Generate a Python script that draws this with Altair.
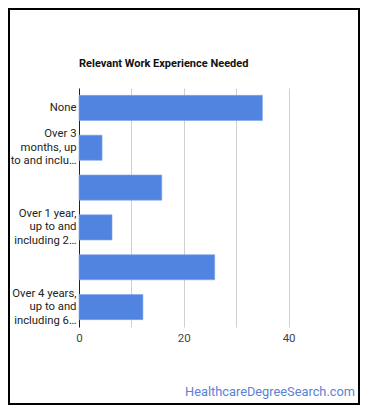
import altair as alt
import pandas as pd

categories = [
    "None",
    "Over 3 months, up to and including 6 months",
    "Over 6 months, up to and including 1 year",
    "Over 1 year, up to and including 2 years",
    "Over 2 years, up to and including 4 years",
    "Over 4 years, up to and including 6 years",
]
values = [35.0, 4.4, 15.8, 6.3, 25.9, 12.2]
shown_labels = [
    ["", "None"],
    ["Over 3", "months, up", "to and inclu…"],
    [],
    ["Over 1 year,", "up to and", "including 2…"],
    [],
    ["Over 4 years,", "up to and", "including 6…"],
]
x_ticks = [0, 10, 20, 30, 40]
x_labelled = [0, 20, 40]

df = pd.DataFrame({"category": categories, "value": values})

def lit(lines):
    if not lines:
        return "''"
    return "[" + ",".join("'" + s + "'" for s in lines) + "]"

expr = "''"
for c, l in reversed(list(zip(categories, shown_labels))):
    expr = f"datum.value == '{c}' ? {lit(l)} : ({expr})"

x_label_expr = " || ".join(f"datum.value == {v}" for v in x_labelled)
x_label_expr = f"({x_label_expr}) ? datum.label : ''"

W, H = 262, 239
LH = 13.5

bars = alt.Chart(df).mark_bar(color="#5184e1", stroke="#7ea4ea", strokeWidth=0.6).encode(
    x=alt.X("value:Q", scale=alt.Scale(domain=[0, 50], nice=False),
            axis=alt.Axis(values=x_ticks, labelExpr=x_label_expr, title=None,
                          domain=False, ticks=False, grid=True, gridColor="#d0d0d0",
                          labelFont="Roboto", labelFontSize=11.5, labelColor="#444444",
                          labelPadding=5, labelFlush=False)),
    y=alt.Y("category:N", sort=categories,
            scale=alt.Scale(paddingInner=0.37, paddingOuter=0.185),
            axis=alt.Axis(labelExpr=expr, title=None, ticks=False, domain=True,
                          domainColor="#222222", domainWidth=1, grid=False,
                          labelFont="Roboto", labelFontSize=11.3, labelColor="#222222",
                          labelLineHeight=LH, labelBaseline="middle", labelOffset=-LH,
                          labelPadding=3, labelLimit=80)),
)

border = alt.Chart(pd.DataFrame({"a": [0]})).mark_rect(
    fill=None, stroke="#000000", strokeWidth=2, opacity=1, strokeOpacity=1
).encode(x=alt.value(-70), x2=alt.value(280), y=alt.value(-79), y2=alt.value(316))

mark_text = alt.Chart(pd.DataFrame({"t": ["HealthcareDegreeSearch.com"]})).mark_text(
    align="right", baseline="middle", font="Roboto", fontSize=12.8, color="#5a82d6"
).encode(text="t:N", x=alt.value(276), y=alt.value(304))

title_text = alt.Chart(pd.DataFrame({"t": ["Relevant Work Experience Needed"]})).mark_text(
    align="left", baseline="middle", font="Roboto", fontSize=11, fontWeight="bold", color="#111111"
).encode(text="t:N", x=alt.value(0), y=alt.value(-24))

chart = alt.layer(bars, border, mark_text, title_text).properties(
    width=W, height=H,
    autosize=alt.AutoSizeParams(type="none"),
    padding={"left": 71, "top": 80, "right": 21, "bottom": 82},
    background="white",
).configure_view(stroke=None)

chart.save("out.html", embed_options={"renderer": "svg", "actions": False})
